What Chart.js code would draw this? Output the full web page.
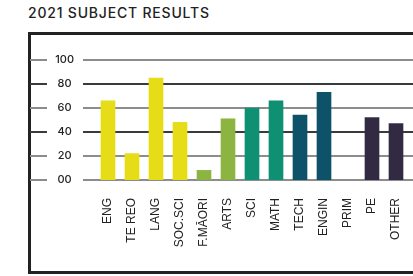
<!DOCTYPE html>
<html>
<head>
<meta charset="utf-8">
<title>2021 Subject Results</title>
<script src="https://cdn.jsdelivr.net/npm/chart.js@4.4.1/dist/chart.umd.min.js"></script>
<style>
  html,body{margin:0;padding:0;background:#fff;}
  body{width:413px;height:276px;position:relative;overflow:hidden;}
  .ttl{position:absolute;left:28px;top:4px;margin:0;font:500 14px 'Inter',sans-serif;letter-spacing:0.8px;color:#222;}
  .frame{position:absolute;left:28px;top:32px;width:420px;height:236px;border:3px solid #222;border-right:none;}
  #wrap{position:absolute;left:0;top:0;width:413px;height:276px;}
</style>
</head>
<body>
<h1 class="ttl">2021 SUBJECT RESULTS</h1>
<div class="frame"></div>
<div id="wrap"><canvas id="chart"></canvas></div>
<script>
// subject results (%); PRIM has no bar
const subjects = ['ENG','TE REO','LANG','SOC.SCI','F.MĀORI','ARTS','SCI','MATH','TECH','ENGIN','PRIM','PE','OTHER'];
const results  = [66, 22, 85, 48, 8, 51, 60, 66, 54, 73, null, 52, 47];
const yTicks   = [0, 20, 40, 60, 80, 100];

// colour per learning area
const yellow = '#e6dc18', green = '#8cb440', teal = '#109073', deep = '#0e526a', plum = '#312a42';
const barColours = [yellow, yellow, yellow, yellow, green, green, teal, teal, deep, deep, deep, plum, plum];

const ink = '#222';
const gridCol = v => (v === 80 || v === 40) ? '#3a3a3a' : '#8c8c8c';

// rules across the plot plus the short stubs at the frame edge
const rules = {
  id: 'rules',
  beforeDatasetsDraw(chart){
    const y = chart.scales.y, ctx = chart.ctx;
    ctx.save();
    ctx.lineWidth = 2;
    yTicks.forEach(v => {
      const py = Math.round(y.getPixelForValue(v));
      ctx.strokeStyle = gridCol(v);
      ctx.beginPath();
      ctx.moveTo(30, py); ctx.lineTo(47, py);
      ctx.moveTo(83, py); ctx.lineTo(chart.width, py);
      ctx.stroke();
    });
    ctx.restore();
  }
};

new Chart(document.getElementById('chart').getContext('2d'), {
  type: 'bar',
  data: {
    labels: subjects,
    datasets: [{ data: results, backgroundColor: barColours, barThickness: 14, borderWidth: 0 }]
  },
  options: {
    responsive: true, maintainAspectRatio: false, animation: false,
    layout: { padding: { top: 60, right: 5, left: 0, bottom: 0 } },
    plugins: { legend: { display: false }, tooltip: { enabled: false } },
    scales: {
      x: {
        grid: { display: false, drawTicks: false },
        border: { display: false },
        ticks: { color: ink, font: { family: "'Liberation Sans', Arial, sans-serif", size: 12 },
                 minRotation: 90, maxRotation: 90, padding: 18, autoSkip: false },
        afterFit(s){ s.height = 96; s.paddingLeft = 0; s.paddingRight = 0; }
      },
      y: {
        min: 0, max: 100,
        grid: { display: false, drawTicks: false },
        border: { display: false },
        ticks: { stepSize: 20, color: ink, crossAlign: 'center', padding: 22,
                 font: { family: "'Inter', sans-serif", size: 11, weight: 500 },
                 callback: v => v === 0 ? '00' : String(v) },
        afterFit(s){ s.width = 96; }
      }
    }
  },
  plugins: [rules]
});
</script>
</body>
</html>
